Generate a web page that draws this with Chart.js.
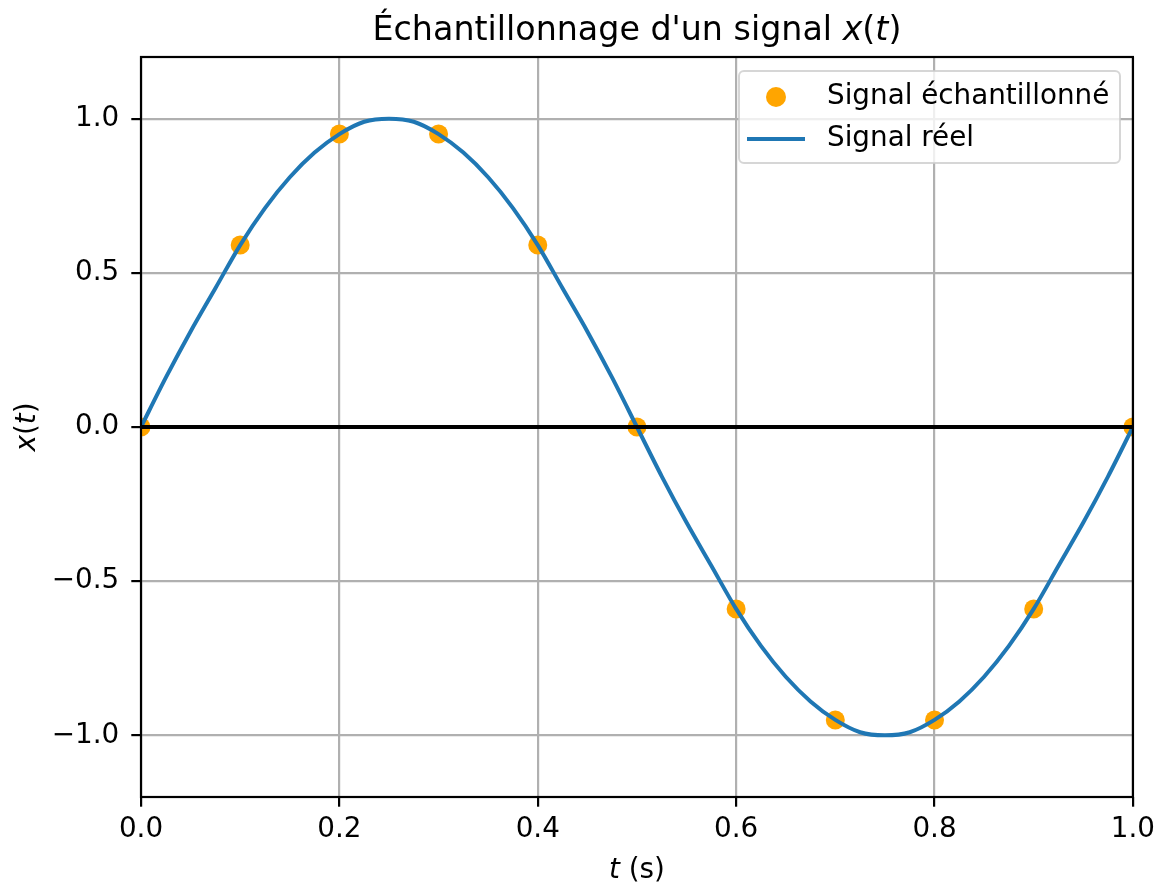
<!DOCTYPE html>
<html>
<head>
<meta charset="utf-8">
<script src="https://cdn.jsdelivr.net/npm/chart.js@4"></script>
<style>
  html, body { margin: 0; padding: 0; background: #fff; }
  #wrap { width: 1161px; height: 888px; }
</style>
</head>
<body>
<div id="wrap"><canvas id="graphe" width="1161" height="888"></canvas></div>
<script>
// Instants d'échantillonnage (s) et valeurs échantillonnées
const tEch = [0, 0.1, 0.2, 0.3, 0.4, 0.5, 0.6, 0.7, 0.8, 0.9, 1.0];
const xEch = [0, 0.59, 0.95, 0.95, 0.59, 0, -0.59, -0.95, -0.95, -0.59, 0];

// Signal réel, relevé tous les 0.025 s
const tReel = [0, 0.025, 0.05, 0.075, 0.1, 0.125, 0.15, 0.175, 0.2, 0.225, 0.25,
  0.275, 0.3, 0.325, 0.35, 0.375, 0.4, 0.425, 0.45, 0.475, 0.5,
  0.525, 0.55, 0.575, 0.6, 0.625, 0.65, 0.675, 0.7, 0.725, 0.75,
  0.775, 0.8, 0.825, 0.85, 0.875, 0.9, 0.925, 0.95, 0.975, 1.0];
const xReel = [0, 0.16, 0.31, 0.45, 0.59, 0.71, 0.81, 0.89, 0.95, 0.99, 1.0,
  0.99, 0.95, 0.89, 0.81, 0.71, 0.59, 0.45, 0.31, 0.16, 0,
  -0.16, -0.31, -0.45, -0.59, -0.71, -0.81, -0.89, -0.95, -0.99, -1.0,
  -0.99, -0.95, -0.89, -0.81, -0.71, -0.59, -0.45, -0.31, -0.16, 0];

// Ligne horizontale x = 0
const tZero = [0, 1];
const xZero = [0, 0];

const ticksT = [0, 0.2, 0.4, 0.6, 0.8, 1.0];
const ticksX = [-1.0, -0.5, 0.0, 0.5, 1.0];

const FONT = '"DejaVu Sans", sans-serif';
const ORANGE = '#ffa500';
const BLEU = '#1f77b4';
const T_TEXTE = 27.8;
const T_TITRE = 33.3;

const points = (xs, ys) => xs.map((v, i) => ({ x: v, y: ys[i] }));
const fmt = v => v.toFixed(1).replace('-', '\u2212');

// texte avec parties en italique (notation mathématique)
function texteRiche(ctx, parts, x, y, taille, align) {
  let total = 0;
  parts.forEach(p => {
    ctx.font = (p.it ? 'italic ' : '') + taille + 'px ' + FONT;
    p.w = ctx.measureText(p.s).width;
    total += p.w;
  });
  let cx = align === 'center' ? x - total / 2 : x;
  ctx.textAlign = 'left';
  parts.forEach(p => {
    ctx.font = (p.it ? 'italic ' : '') + taille + 'px ' + FONT;
    ctx.fillText(p.s, cx, y);
    cx += p.w;
  });
}

const habillage = {
  id: 'habillage',
  afterDraw(chart) {
    const ctx = chart.ctx;
    const a = chart.chartArea;
    const cx = (a.left + a.right) / 2;
    ctx.save();
    ctx.fillStyle = '#000';

    // cadre des axes
    ctx.strokeStyle = '#000';
    ctx.lineWidth = 2.2;
    ctx.strokeRect(a.left, a.top, a.right - a.left, a.bottom - a.top);

    // titre
    ctx.textBaseline = 'alphabetic';
    texteRiche(ctx, [{ s: "\u00c9chantillonnage d'un signal " }, { s: 'x', it: true }, { s: '(' }, { s: 't', it: true }, { s: ')' }], cx, 40, T_TITRE, 'center');

    // étiquette de l'axe des abscisses
    texteRiche(ctx, [{ s: 't', it: true }, { s: ' (s)' }], cx, 878, T_TEXTE, 'center');

    // étiquette de l'axe des ordonnées
    ctx.save();
    ctx.translate(35, (a.top + a.bottom) / 2);
    ctx.rotate(-Math.PI / 2);
    texteRiche(ctx, [{ s: 'x', it: true }, { s: '(' }, { s: 't', it: true }, { s: ')' }], 0, 0, T_TEXTE, 'center');
    ctx.restore();

    // légende
    const lx = 739, ly = 71, lw = 381, lh = 92, r = 5;
    ctx.beginPath();
    ctx.roundRect(lx, ly, lw, lh, r);
    ctx.fillStyle = 'rgba(255,255,255,0.8)';
    ctx.fill();
    ctx.strokeStyle = 'rgba(204,204,204,0.8)';
    ctx.lineWidth = 2;
    ctx.stroke();

    const ds = chart.data.datasets;
    ctx.fillStyle = ORANGE;
    ctx.beginPath();
    ctx.arc(776, 97, 10, 0, Math.PI * 2);
    ctx.fill();
    ctx.strokeStyle = BLEU;
    ctx.lineWidth = 4;
    ctx.beginPath();
    ctx.moveTo(747, 139);
    ctx.lineTo(805, 139);
    ctx.stroke();

    ctx.fillStyle = '#000';
    ctx.textBaseline = 'middle';
    ctx.textAlign = 'left';
    ctx.font = T_TEXTE + 'px ' + FONT;
    ctx.fillText(ds[0].label, 827, 97);
    ctx.fillText(ds[1].label, 827, 139);
    ctx.restore();
  }
};

new Chart(document.getElementById('graphe'), {
  type: 'scatter',
  data: {
    datasets: [
      {
        label: 'Signal \u00e9chantillonn\u00e9',
        data: points(tEch, xEch),
        backgroundColor: ORANGE,
        borderWidth: 0,
        pointRadius: 9.5,
        clip: 0,
        order: 3
      },
      {
        label: 'Signal r\u00e9el',
        type: 'line',
        data: points(tReel, xReel),
        borderColor: BLEU,
        borderWidth: 4,
        pointRadius: 0,
        tension: 0.3,
        fill: false,
        clip: 0,
        order: 2
      },
      {
        label: 'x = 0',
        type: 'line',
        data: points(tZero, xZero),
        borderColor: '#000',
        borderWidth: 3.8,
        pointRadius: 0,
        fill: false,
        clip: 0,
        order: 1
      }
    ]
  },
  options: {
    responsive: false,
    animation: false,
    layout: { padding: { top: 57, right: 27, left: 0, bottom: 0 } },
    plugins: { legend: { display: false }, title: { display: false }, tooltip: { enabled: false } },
    scales: {
      x: {
        type: 'linear',
        min: 0, max: 1,
        afterBuildTicks: ax => { ax.ticks = ticksT.map(v => ({ value: v })); },
        afterFit: ax => { ax.height = 91; },
        grid: { color: '#b0b0b0', lineWidth: 2.2, tickColor: '#000', tickLength: 9.7, tickWidth: 2.2 },
        border: { display: false },
        ticks: { color: '#000', font: { family: FONT, size: T_TEXTE }, padding: 6, maxRotation: 0, callback: v => fmt(v) }
      },
      y: {
        type: 'linear',
        min: -1.2, max: 1.2,
        afterBuildTicks: ax => { ax.ticks = ticksX.map(v => ({ value: v })); },
        afterFit: ax => { ax.width = 141; },
        grid: { color: '#b0b0b0', lineWidth: 2.2, tickColor: '#000', tickLength: 9.7, tickWidth: 2.2 },
        border: { display: false },
        ticks: { color: '#000', font: { family: FONT, size: T_TEXTE }, padding: 12, callback: v => fmt(v) }
      }
    }
  },
  plugins: [habillage]
});
</script>
</body>
</html>
